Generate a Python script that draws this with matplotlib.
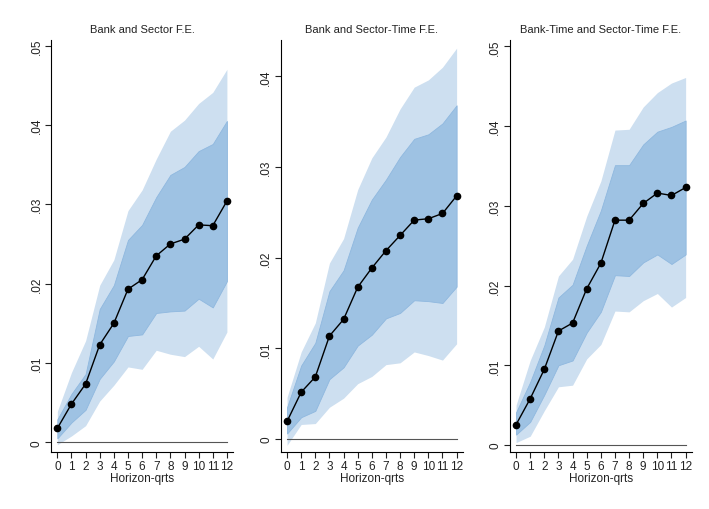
import numpy as np
import matplotlib
matplotlib.use("Agg")
import matplotlib.pyplot as plt

plt.rcParams['font.family'] = ['Liberation Sans', 'DejaVu Sans']

horizon = list(range(13))

titles = ["Bank and Sector F.E.",
          "Bank and Sector-Time F.E.",
          "Bank-Time and Sector-Time F.E."]

# panel 1
est1 = [0.00176, 0.00483, 0.00735, 0.0123, 0.0150, 0.0193, 0.0205, 0.0235, 0.0250, 0.0256, 0.0274, 0.0273, 0.0304]
in_hi1 = [0.0029, 0.0061, 0.0086, 0.0168, 0.0198, 0.0255, 0.0274, 0.0309, 0.0337, 0.0347, 0.0367, 0.0376, 0.0405]
in_lo1 = [0.0005, 0.0025, 0.0041, 0.0080, 0.0102, 0.0134, 0.0136, 0.0163, 0.0165, 0.0166, 0.0181, 0.0170, 0.0203]
out_hi1 = [0.0039, 0.0088, 0.0128, 0.0198, 0.0230, 0.0292, 0.0318, 0.0357, 0.0392, 0.0406, 0.0427, 0.0441, 0.0470]
out_lo1 = [-0.0003, 0.0008, 0.0021, 0.0052, 0.0072, 0.0095, 0.0092, 0.0116, 0.0111, 0.0108, 0.0121, 0.0105, 0.0139]

# panel 2
est2 = [0.00194, 0.00516, 0.00685, 0.01136, 0.01319, 0.01674, 0.01886, 0.02077, 0.02245, 0.02414, 0.02429, 0.02487, 0.02681]
in_hi2 = [0.0035, 0.0081, 0.0106, 0.0163, 0.0186, 0.0233, 0.0264, 0.0286, 0.0311, 0.0331, 0.0336, 0.0348, 0.0368]
in_lo2 = [0.0006, 0.0024, 0.0031, 0.0066, 0.0079, 0.0103, 0.0115, 0.0133, 0.0139, 0.0153, 0.0152, 0.0150, 0.0168]
out_hi2 = [0.0046, 0.0096, 0.0128, 0.0194, 0.0221, 0.0275, 0.0310, 0.0333, 0.0364, 0.0388, 0.0396, 0.0410, 0.0431]
out_lo2 = [-0.0007, 0.0016, 0.0017, 0.0035, 0.0045, 0.0061, 0.0069, 0.0082, 0.0084, 0.0096, 0.0092, 0.0087, 0.0105]

# panel 3
est3 = [0.00255, 0.0058, 0.0095, 0.0143, 0.0153, 0.0196, 0.0228, 0.0282, 0.0282, 0.0303, 0.0316, 0.0313, 0.0323]
in_hi3 = [0.0041, 0.0079, 0.0125, 0.0185, 0.0201, 0.0250, 0.0294, 0.0351, 0.0351, 0.0377, 0.0393, 0.0399, 0.0407]
in_lo3 = [0.0013, 0.0029, 0.0063, 0.0100, 0.0106, 0.0141, 0.0167, 0.0213, 0.0212, 0.0229, 0.0239, 0.0227, 0.0239]
out_hi3 = [0.0050, 0.0106, 0.0148, 0.0212, 0.0233, 0.0287, 0.0331, 0.0395, 0.0396, 0.0424, 0.0442, 0.0454, 0.0461]
out_lo3 = [0.0003, 0.0011, 0.0043, 0.0073, 0.0075, 0.0108, 0.0126, 0.0168, 0.0167, 0.0181, 0.0190, 0.0173, 0.0185]

yticks1 = [0, 0.01, 0.02, 0.03, 0.04, 0.05]
yticks2 = [0, 0.01, 0.02, 0.03, 0.04]
ylabels1 = ["0", ".01", ".02", ".03", ".04", ".05"]
ylabels2 = ["0", ".01", ".02", ".03", ".04"]

panels = [
    (est1, in_lo1, in_hi1, out_lo1, out_hi1, yticks1, ylabels1, (-0.00118, 0.0507)),
    (est2, in_lo2, in_hi2, out_lo2, out_hi2, yticks2, ylabels2, (-0.0014, 0.044)),
    (est3, in_lo3, in_hi3, out_lo3, out_hi3, yticks1, ylabels1, (-0.00084, 0.0508)),
]

lefts = [0.0719, 0.3959, 0.7189]

fig = plt.figure(figsize=(7.09, 5.10), dpi=100)

for i, (est, ilo, ihi, olo, ohi, yt, yl, ylim) in enumerate(panels):
    ax = fig.add_axes([lefts[i], 0.1124, 0.2567, 0.8072])
    ax.fill_between(horizon, olo, ohi, color="#cddff0", lw=0)
    ax.fill_between(horizon, ilo, ihi, color="#9ec2e3", lw=0.6, edgecolor="#8fb8df")
    ax.plot([0, 12], [0, 0], color="#555555", lw=0.8)
    ax.plot(horizon, est, color="black", lw=1, marker="o", ms=4.5)
    ax.set_xlim(-0.45, 12.43)
    ax.set_ylim(*ylim)
    ax.set_xticks(horizon)
    ax.set_yticks(yt)
    ax.set_yticklabels(yl, rotation=90, va="center")
    ax.tick_params(labelsize=8.5, length=4, width=0.8, colors="#222222", pad=2)
    ax.spines["top"].set_visible(False)
    ax.spines["right"].set_visible(False)
    ax.set_title(titles[i], fontsize=8, color="#222222", pad=6)
    ax.set_xlabel("Horizon-qrts", fontsize=8.5, color="#222222", labelpad=0)

fig.savefig("out.png", dpi=100)
